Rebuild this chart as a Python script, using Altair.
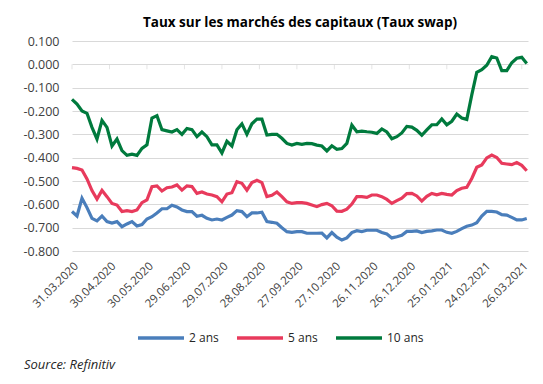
import altair as alt
import pandas as pd

title_text = "Taux sur les marchés des capitaux (Taux swap)"
source_text = "Source: Refinitiv"
series_names = ["2 ans", "5 ans", "10 ans"]
series_colors = ["#4a7ebb", "#e83a5c", "#007a3d"]

dates = [
    "2020-03-31", "2020-04-04", "2020-04-08", "2020-04-12", "2020-04-16", "2020-04-20",
    "2020-04-24", "2020-04-28", "2020-05-02", "2020-05-06", "2020-05-10", "2020-05-14",
    "2020-05-18", "2020-05-22", "2020-05-26", "2020-05-30", "2020-06-03", "2020-06-07",
    "2020-06-11", "2020-06-15", "2020-06-19", "2020-06-23", "2020-06-27", "2020-07-01",
    "2020-07-05", "2020-07-09", "2020-07-13", "2020-07-17", "2020-07-21", "2020-07-25",
    "2020-07-29", "2020-08-02", "2020-08-06", "2020-08-10", "2020-08-14", "2020-08-18",
    "2020-08-22", "2020-08-26", "2020-08-30", "2020-09-03", "2020-09-07", "2020-09-11",
    "2020-09-15", "2020-09-19", "2020-09-23", "2020-09-27", "2020-10-01", "2020-10-05",
    "2020-10-09", "2020-10-13", "2020-10-17", "2020-10-21", "2020-10-25", "2020-10-29",
    "2020-11-02", "2020-11-06", "2020-11-10", "2020-11-14", "2020-11-18", "2020-11-22",
    "2020-11-26", "2020-11-30", "2020-12-04", "2020-12-08", "2020-12-12", "2020-12-16",
    "2020-12-20", "2020-12-24", "2020-12-28", "2021-01-01", "2021-01-05", "2021-01-09",
    "2021-01-13", "2021-01-17", "2021-01-21", "2021-01-25", "2021-01-29", "2021-02-02",
    "2021-02-06", "2021-02-10", "2021-02-14", "2021-02-18", "2021-02-22", "2021-02-26",
    "2021-03-02", "2021-03-06", "2021-03-10", "2021-03-14", "2021-03-18", "2021-03-22",
    "2021-03-26", "2021-03-30",
]

rate_2y = [
    -0.631, -0.650, -0.574, -0.614, -0.660, -0.671, -0.650, -0.674, -0.680, -0.674,
    -0.696, -0.684, -0.674, -0.693, -0.687, -0.663, -0.653, -0.637, -0.619, -0.619,
    -0.604, -0.611, -0.624, -0.631, -0.631, -0.651, -0.647, -0.660, -0.667, -0.663,
    -0.667, -0.656, -0.646, -0.627, -0.631, -0.653, -0.637, -0.637, -0.634, -0.674,
    -0.677, -0.681, -0.700, -0.717, -0.720, -0.717, -0.717, -0.724, -0.724, -0.724,
    -0.723, -0.744, -0.721, -0.741, -0.753, -0.744, -0.721, -0.713, -0.717, -0.711,
    -0.711, -0.711, -0.721, -0.727, -0.744, -0.739, -0.733, -0.716, -0.716, -0.714,
    -0.721, -0.716, -0.714, -0.710, -0.710, -0.720, -0.724, -0.716, -0.704, -0.694,
    -0.689, -0.679, -0.650, -0.630, -0.630, -0.633, -0.644, -0.646, -0.656, -0.667,
    -0.667, -0.661,
]

rate_5y = [
    -0.443, -0.446, -0.453, -0.491, -0.541, -0.577, -0.540, -0.567, -0.596, -0.603,
    -0.631, -0.627, -0.631, -0.624, -0.593, -0.581, -0.524, -0.521, -0.543, -0.529,
    -0.526, -0.517, -0.539, -0.521, -0.524, -0.553, -0.547, -0.556, -0.560, -0.567,
    -0.589, -0.556, -0.550, -0.503, -0.510, -0.539, -0.507, -0.497, -0.507, -0.567,
    -0.561, -0.547, -0.567, -0.589, -0.596, -0.593, -0.593, -0.596, -0.603, -0.610,
    -0.601, -0.596, -0.606, -0.629, -0.630, -0.621, -0.599, -0.567, -0.567, -0.570,
    -0.560, -0.560, -0.567, -0.579, -0.596, -0.584, -0.574, -0.554, -0.553, -0.564,
    -0.586, -0.566, -0.553, -0.559, -0.553, -0.557, -0.560, -0.541, -0.531, -0.527,
    -0.489, -0.441, -0.431, -0.401, -0.389, -0.399, -0.424, -0.427, -0.430, -0.421,
    -0.433, -0.456,
]

rate_10y = [
    -0.150, -0.170, -0.200, -0.210, -0.270, -0.320, -0.240, -0.270, -0.350, -0.320,
    -0.370, -0.390, -0.385, -0.390, -0.360, -0.345, -0.230, -0.220, -0.280, -0.285,
    -0.290, -0.280, -0.300, -0.275, -0.280, -0.310, -0.290, -0.310, -0.345, -0.345,
    -0.380, -0.330, -0.350, -0.280, -0.255, -0.300, -0.255, -0.235, -0.235, -0.303,
    -0.300, -0.300, -0.317, -0.339, -0.346, -0.339, -0.343, -0.339, -0.340, -0.346,
    -0.350, -0.371, -0.349, -0.364, -0.361, -0.339, -0.260, -0.289, -0.286, -0.289,
    -0.291, -0.296, -0.277, -0.290, -0.319, -0.310, -0.294, -0.266, -0.269, -0.283,
    -0.304, -0.281, -0.259, -0.259, -0.234, -0.259, -0.244, -0.213, -0.230, -0.236,
    -0.131, -0.034, -0.023, -0.004, 0.033, 0.027, -0.027, -0.027, 0.007, 0.026,
    0.030, 0.004,
]

tick_dates = [
    "2020-03-31", "2020-04-30", "2020-05-30", "2020-06-29", "2020-07-29", "2020-08-28",
    "2020-09-27", "2020-10-27", "2020-11-26", "2020-12-26", "2021-01-25", "2021-02-24",
    "2021-03-26",
]
y_ticks = [0.1, 0.0, -0.1, -0.2, -0.3, -0.4, -0.5, -0.6, -0.7, -0.8]
x_domain = ["2020-03-31", "2021-03-31"]


def to_dt(s):
    y, m, d = (int(p) for p in s.split("-"))
    return alt.DateTime(year=y, month=m, date=d, utc=True)


df = pd.DataFrame({
    "date": dates * 3,
    "value": rate_2y + rate_5y + rate_10y,
    "series": [series_names[0]] * len(dates) + [series_names[1]] * len(dates) + [series_names[2]] * len(dates),
})
ticks_df = pd.DataFrame({"date": tick_dates, "value": [0.0] * len(tick_dates)})
source_df = pd.DataFrame({"t": [source_text]})

FONT = "Open Sans"

x_scale = alt.Scale(type="utc", domain=[to_dt(s) for s in x_domain])
x_axis = alt.Axis(
    values=[to_dt(s) for s in tick_dates],
    labelExpr="utcFormat(datum.value, '%d.%m.%Y')",
    labelAngle=-45,
    labelFontSize=11.5,
    labelPadding=9,
    labelOverlap=False,
    ticks=False,
    domain=False,
    grid=False,
    title=None,
)
y_scale = alt.Scale(domain=[-0.8, 0.1], nice=False, zero=False)
y_axis = alt.Axis(
    values=y_ticks,
    labelExpr="(datum.value < -0.0001 ? '-' : '') + format(abs(datum.value), '.3f')",
    labelFontSize=12.5,
    labelPadding=13,
    labelOverlap=False,
    grid=True,
    gridColor="#d9d9d9",
    gridWidth=1,
    domain=False,
    ticks=False,
    title=None,
)

axis_ticks = alt.Chart(ticks_df).mark_tick(
    orient="vertical", size=5, thickness=1, yOffset=2.5, color="#d9d9d9"
).encode(
    x=alt.X("date:T", scale=x_scale, axis=x_axis),
    y=alt.Y("value:Q", scale=y_scale, axis=y_axis),
)

lines = alt.Chart(df).mark_line(strokeWidth=3.2, interpolate="linear").encode(
    x=alt.X("date:T", scale=x_scale, axis=x_axis),
    y=alt.Y("value:Q", scale=y_scale, axis=y_axis),
    color=alt.Color(
        "series:N",
        scale=alt.Scale(domain=series_names, range=series_colors),
        legend=alt.Legend(
            title=None,
            orient="none",
            direction="horizontal",
            legendX=64,
            legendY=272,
            symbolType="stroke",
            symbolSize=2116,
            symbolStrokeWidth=3.5,
            labelFontSize=12,
            labelFont=FONT,
            labelColor="#262626",
            labelOffset=3,
            columnPadding=11,
        ),
    ),
    detail="series:N",
)

source = alt.Chart(source_df).mark_text(
    align="left", baseline="middle", fontStyle="italic", fontSize=13,
    font=FONT, color="#262626", x=-48, y=324,
).encode(text="t:N")

chart = alt.layer(axis_ticks, lines, source).properties(
    width=456,
    height=210,
    title=alt.TitleParams(
        title_text, fontSize=13.5, font=FONT, fontWeight="bold",
        color="#000000", anchor="middle", offset=6,
    ),
    autosize=alt.AutoSizeParams(type="none"),
    padding={"left": 64, "top": 33, "right": 7, "bottom": 125},
).configure_view(stroke=None).configure_axis(
    labelFont=FONT, labelColor="#404040"
)

chart.save("out.html", embed_options={"renderer": "svg", "actions": False})
